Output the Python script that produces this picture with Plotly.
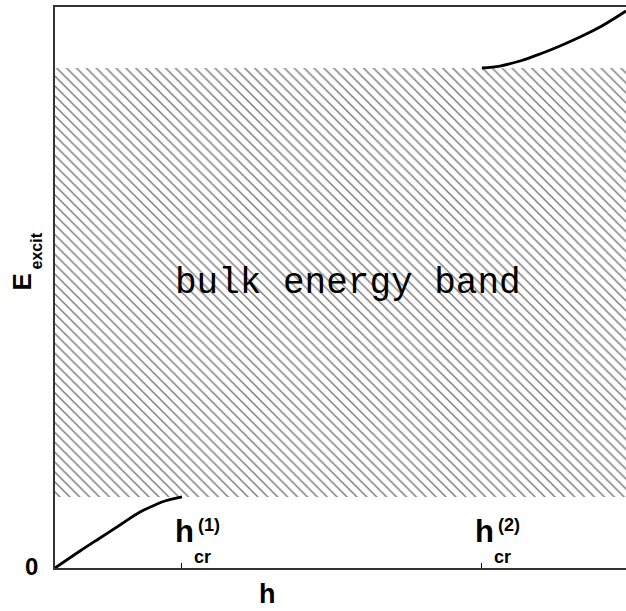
import plotly.graph_objects as go

# ---- data (axes normalised to 0..1) ----
h_lower = [0.0, 0.0438, 0.0788, 0.1138, 0.1489, 0.1751, 0.1926, 0.2224]
E_lower = [0.0, 0.0303, 0.0535, 0.0766, 0.0998, 0.1123, 0.1194, 0.1266]

h_upper = [0.7478, 0.7793, 0.8144, 0.8494, 0.8844, 0.9194, 0.9545, 1.0]
E_upper = [0.8913, 0.8948, 0.9037, 0.9162, 0.9305, 0.9465, 0.9643, 0.9929]

band_bottom = 0.1266
band_top = 0.8913
h_cr = [0.2224, 0.7478]
h_cr_sup = ["(1)", "(2)"]
band_label = "bulk energy band"
x_title = "h"
y_title_main = "E"
y_title_sub = "excit"
y_tick_label = "0"

SANS = "Liberation Sans, Arial, sans-serif"
MONO = "Liberation Mono, Courier New, monospace"

fig = go.Figure()

# hatched bulk band
fig.add_trace(go.Scatter(
    x=[0, 1, 1, 0, 0],
    y=[band_bottom, band_bottom, band_top, band_top, band_bottom],
    mode="lines", fill="toself", line=dict(width=0, color="rgba(0,0,0,0)"),
    fillcolor="white",
    fillpattern=dict(shape="\\", fgcolor="black", bgcolor="white",
                     size=7, solidity=0.22),
    hoverinfo="skip", showlegend=False,
))

# excitation branches
fig.add_trace(go.Scatter(x=h_lower, y=E_lower, mode="lines",
                         line=dict(color="black", width=2.8, shape="spline"),
                         showlegend=False))
fig.add_trace(go.Scatter(x=h_upper, y=E_upper, mode="lines",
                         line=dict(color="black", width=2.8, shape="spline"),
                         showlegend=False))

ann = []
# band label
ann.append(dict(x=0.513, y=0.508, xref="x", yref="y", text=band_label,
                showarrow=False, font=dict(family=MONO, size=36, color="black")))
# critical field labels
for hc, sup in zip(h_cr, h_cr_sup):
    ann.append(dict(x=hc, y=0.0642, xref="x", yref="y", text="h", showarrow=False,
                    xanchor="center", yanchor="middle", xshift=3,
                    font=dict(family=SANS, size=31, color="black", weight="bold")))
    ann.append(dict(x=hc, y=0.0766, xref="x", yref="y", text=sup, showarrow=False,
                    xanchor="left", yanchor="middle", xshift=14,
                    font=dict(family=SANS, size=18, color="black", weight="bold")))
    ann.append(dict(x=hc, y=0.0196, xref="x", yref="y", text="cr", showarrow=False,
                    xanchor="left", yanchor="middle", xshift=10,
                    font=dict(family=SANS, size=18, color="black", weight="bold")))
# axis titles
ann.append(dict(x=0.373, y=0, xref="paper", yref="paper", text=x_title,
                showarrow=False, xanchor="center", yanchor="middle", yshift=-26,
                font=dict(family=SANS, size=27, color="black", weight="bold")))
ann.append(dict(x=0, y=0.5098, xref="paper", yref="paper", text=y_title_main,
                showarrow=False, xanchor="center", yanchor="middle", xshift=-32.5,
                textangle=-90,
                font=dict(family=SANS, size=26, color="black", weight="bold")))
ann.append(dict(x=0, y=0.5642, xref="paper", yref="paper", text=y_title_sub,
                showarrow=False, xanchor="center", yanchor="middle", xshift=-19,
                textangle=-90,
                font=dict(family=SANS, size=16, color="black", weight="bold")))
# y tick "0"
ann.append(dict(x=0, y=0, xref="paper", yref="paper", text=y_tick_label,
                showarrow=False, xanchor="center", yanchor="middle", xshift=-24, yshift=2,
                font=dict(family=SANS, size=24, color="black", weight="bold")))

fig.update_layout(
    width=626, height=611,
    margin=dict(l=55, r=0, t=7, b=43),
    paper_bgcolor="white", plot_bgcolor="white",
    annotations=ann,
    xaxis=dict(range=[0, 1], showgrid=False, zeroline=False,
               showline=True, linecolor="#333", linewidth=1.5, mirror=True,
               ticks="inside", ticklen=5, tickwidth=1.2, tickcolor="black",
               tickvals=h_cr, showticklabels=False),
    yaxis=dict(range=[0, 1], showgrid=False, zeroline=False,
               showline=True, linecolor="#333", linewidth=1.5, mirror=False,
               ticks="", showticklabels=False),
)

fig.write_html("out.html", config={"displayModeBar": False},
               post_script="document.body.style.margin='0';document.body.style.overflow='hidden';")
